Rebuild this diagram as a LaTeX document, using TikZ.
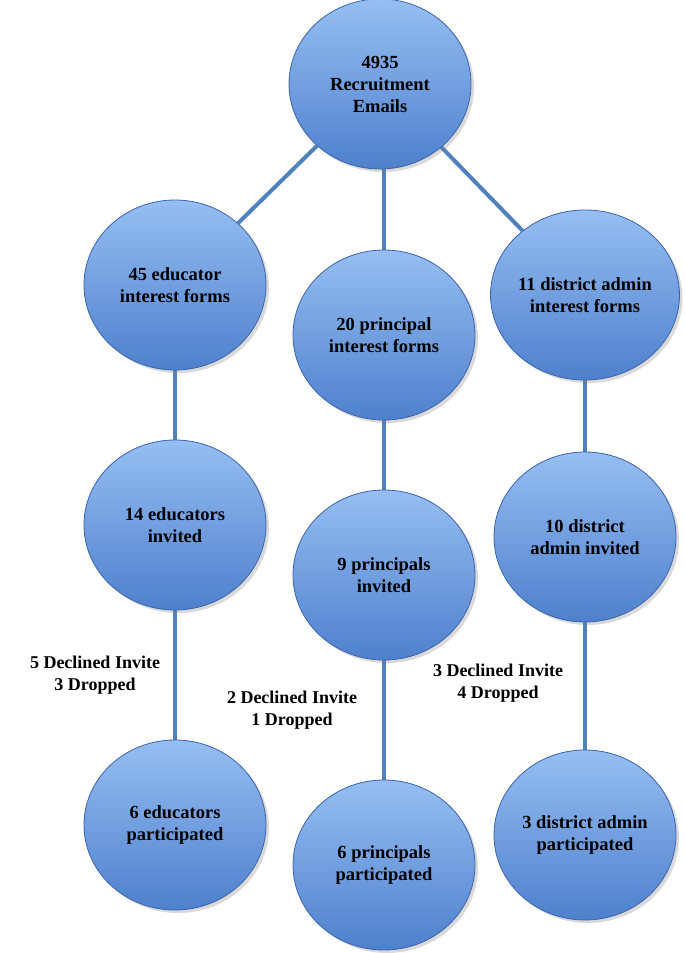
\documentclass[tikz,border=0pt]{standalone}
\usepackage{fontspec}
\setmainfont{Liberation Serif}
\usetikzlibrary{shadows,shapes.geometric}
\definecolor{ctop}{RGB}{150,190,242}
\definecolor{cbot}{RGB}{78,128,205}
\definecolor{cedge}{RGB}{60,100,170}
\definecolor{clink}{RGB}{79,129,189}
\begin{document}
\begin{tikzpicture}[x=1pt,y=-1pt,
  bub/.style={ellipse,minimum width=182pt,minimum height=170pt,inner sep=0pt,align=center,draw=cedge,line width=0.8pt,
    top color=ctop,bottom color=cbot,
    drop shadow={shadow xshift=3pt,shadow yshift=-3pt,opacity=0.3},
    font=\bfseries\fontsize{18.5}{22}\selectfont},
  lnk/.style={draw=clink,line width=4pt},
  lbl/.style={align=center,font=\bfseries\fontsize{18}{22}\selectfont}]
\useasboundingbox (0,0) rectangle (685,953);
\node[bub] (a) at (380,84) {4935\\Recruitment\\Emails};
\node[bub] (l1) at (175,285) {45 educator\\interest forms};
\node[bub] (m1) at (384,335) {20 principal\\interest forms};
\node[bub] (r1) at (585,295) {11 district admin\\interest forms};
\node[bub] (l2) at (175,525) {14 educators\\invited};
\node[bub] (m2) at (384,575) {9 principals\\invited};
\node[bub] (r2) at (585,537) {10 district\\admin invited};
\node[bub] (l3) at (175,825) {6 educators\\participated};
\node[bub] (m3) at (384,865) {6 principals\\participated};
\node[bub] (r3) at (585,835) {3 district admin\\participated};
\begin{scope}[on background layer/.style={}]
\end{scope}
\node[lbl] (tl) at (95,675) {5 Declined Invite\\3 Dropped};
\node[lbl] (tm) at (292,710) {2 Declined Invite\\1 Dropped};
\node[lbl] (tr) at (498,683) {3 Declined Invite\\4 Dropped};
\pgfdeclarelayer{bg}\pgfsetlayers{bg,main}
\begin{pgfonlayer}{bg}
\draw[lnk] (a) -- (l1);
\draw[lnk] (a.center) ++(4,0) -- (m1.center);
\draw[lnk] (a) -- (r1);
\draw[lnk] (l1) -- (l2);
\draw[lnk] (l2) -- (l3);
\draw[lnk] (m1) -- (m2);
\draw[lnk] (m2) -- (m3);
\draw[lnk] (r1) -- (r2);
\draw[lnk] (r2) -- (r3);
\end{pgfonlayer}
\end{tikzpicture}
\end{document}
